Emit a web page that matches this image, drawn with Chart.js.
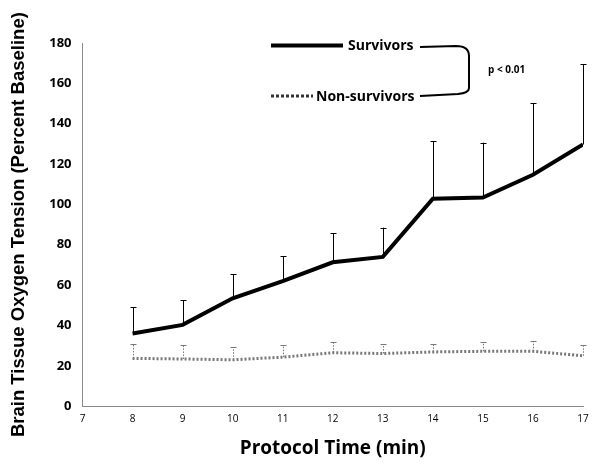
<!DOCTYPE html>
<html>
<head>
<meta charset="utf-8">
<script src="https://cdn.jsdelivr.net/npm/chart.js@4/dist/chart.umd.min.js"></script>
<style>
  html, body { margin: 0; padding: 0; background: #fff; }
  #wrap { width: 600px; height: 472px; }
</style>
</head>
<body>
<div id="wrap"><canvas id="chart" width="600" height="472"></canvas></div>
<script>
// ── Data ─────────────────────────────────────────────────────
const minutes = [8, 9, 10, 11, 12, 13, 14, 15, 16, 17];
const survivors = [36, 40.3, 53.5, 62, 71.3, 74, 102.8, 103.4, 114.7, 129.7];
const survivorsUpper = [49.2, 52.5, 65.5, 74.2, 85.8, 88.5, 131.2, 130.6, 150.3, 169.6];
const nonSurvivors = [23.7, 23.4, 23, 24.3, 26.5, 26.1, 26.9, 27.2, 27.2, 25];
const nonSurvivorsUpper = [31, 30.2, 29.1, 30.2, 31.7, 30.7, 30.7, 31.7, 32.2, 30.2];
const yTicks = [0, 20, 40, 60, 80, 100, 120, 140, 160, 180];

const calibri = "'Open Sans', 'Noto Sans', sans-serif";

// ── Upper error bars + legend annotation ─────────────────────
const errorBars = {
    id: 'errorBars',
    afterDatasetsDraw(chart) {
        const { ctx, scales: { x, y } } = chart;
        const sets = [
            { vals: nonSurvivors, upper: nonSurvivorsUpper, color: '#777', dash: [1.5, 1.5] },
            { vals: survivors, upper: survivorsUpper, color: '#000', dash: [] }
        ];
        ctx.save();
        ctx.lineWidth = 1;
        sets.forEach(s => {
            ctx.strokeStyle = s.color;
            minutes.forEach((m, i) => {
                const px = Math.round(x.getPixelForValue(m)) + 0.5;
                const y0 = y.getPixelForValue(s.vals[i]);
                const y1 = y.getPixelForValue(s.upper[i]);
                ctx.setLineDash(s.dash);
                ctx.beginPath();
                ctx.moveTo(px, y0);
                ctx.lineTo(px, y1);
                ctx.stroke();
                ctx.setLineDash([]);
                ctx.beginPath();
                ctx.moveTo(px - 3, Math.round(y1) + 0.5);
                ctx.lineTo(px + 3, Math.round(y1) + 0.5);
                ctx.stroke();
            });
        });
        ctx.restore();
    },
    afterDraw(chart) {
        const ctx = chart.ctx;
        ctx.save();
        // legend samples
        ctx.strokeStyle = '#000';
        ctx.lineWidth = 4;
        ctx.beginPath();
        ctx.moveTo(271, 45.5);
        ctx.lineTo(343, 45.5);
        ctx.stroke();
        ctx.setLineDash([3, 2]);
        ctx.lineWidth = 3;
        ctx.strokeStyle = '#333';
        ctx.beginPath();
        ctx.moveTo(271, 96);
        ctx.lineTo(313, 96);
        ctx.stroke();
        ctx.setLineDash([]);

        ctx.fillStyle = '#000';
        ctx.font = `bold 14px ${calibri}`;
        ctx.textBaseline = 'middle';
        ctx.textAlign = 'left';
        ctx.fillText('Survivors', 348, 46);
        ctx.fillText('Non-survivors', 316, 97);

        // bracket
        ctx.lineWidth = 2;
        ctx.strokeStyle = '#000';
        ctx.beginPath();
        ctx.moveTo(420, 47);
        ctx.lineTo(456, 46);
        ctx.quadraticCurveTo(469, 46, 469, 56);
        ctx.lineTo(469, 88);
        ctx.quadraticCurveTo(469, 93, 458, 94);
        ctx.lineTo(420, 96);
        ctx.stroke();

        ctx.font = `bold 10px ${calibri}`;
        ctx.fillText('p < 0.01', 488, 70);
        ctx.restore();
    }
};

new Chart(document.getElementById('chart'), {
    type: 'line',
    data: {
        datasets: [
            {
                label: 'Survivors',
                data: minutes.map((m, i) => ({ x: m, y: survivors[i] })),
                borderColor: '#000',
                borderWidth: 4,
                pointRadius: 0,
                tension: 0
            },
            {
                label: 'Non-survivors',
                data: minutes.map((m, i) => ({ x: m, y: nonSurvivors[i] })),
                borderColor: '#777',
                borderWidth: 3,
                borderDash: [2, 2],
                pointRadius: 0,
                tension: 0
            }
        ]
    },
    options: {
        responsive: false,
        animation: false,
        layout: { padding: { top: 43, right: 17, left: 8, bottom: 12 } },
        plugins: {
            legend: { display: false },
            tooltip: { enabled: false }
        },
        scales: {
            x: {
                type: 'linear',
                min: 7, max: 17,
                grid: { display: false, drawTicks: true, tickLength: 5, color: '#888' },
                border: { color: '#888', width: 1 },
                ticks: {
                    stepSize: 1,
                    color: '#000',
                    font: { size: 10, family: calibri },
                    padding: 2
                },
                title: {
                    display: true,
                    text: 'Protocol Time (min)',
                    color: '#000',
                    font: { size: 19, weight: 'bold', family: calibri },
                    padding: { top: 10, bottom: 0 }
                }
            },
            y: {
                min: 0, max: 180,
                afterBuildTicks: axis => { axis.ticks = yTicks.map(v => ({ value: v })); },
                grid: { display: false, drawTicks: true, tickLength: 5, color: '#888' },
                border: { color: '#888', width: 1 },
                ticks: {
                    color: '#000',
                    font: { size: 13, weight: 'bold', family: calibri },
                    padding: 6
                },
                title: {
                    display: true,
                    text: 'Brain Tissue Oxygen Tension (Percent Baseline)',
                    color: '#000',
                    font: { size: 18.5, weight: 'bold', family: "'Liberation Sans', Arial, sans-serif" },
                    padding: { top: 0, bottom: 13 }
                }
            }
        }
    },
    plugins: [errorBars]
});
</script>
</body>
</html>
